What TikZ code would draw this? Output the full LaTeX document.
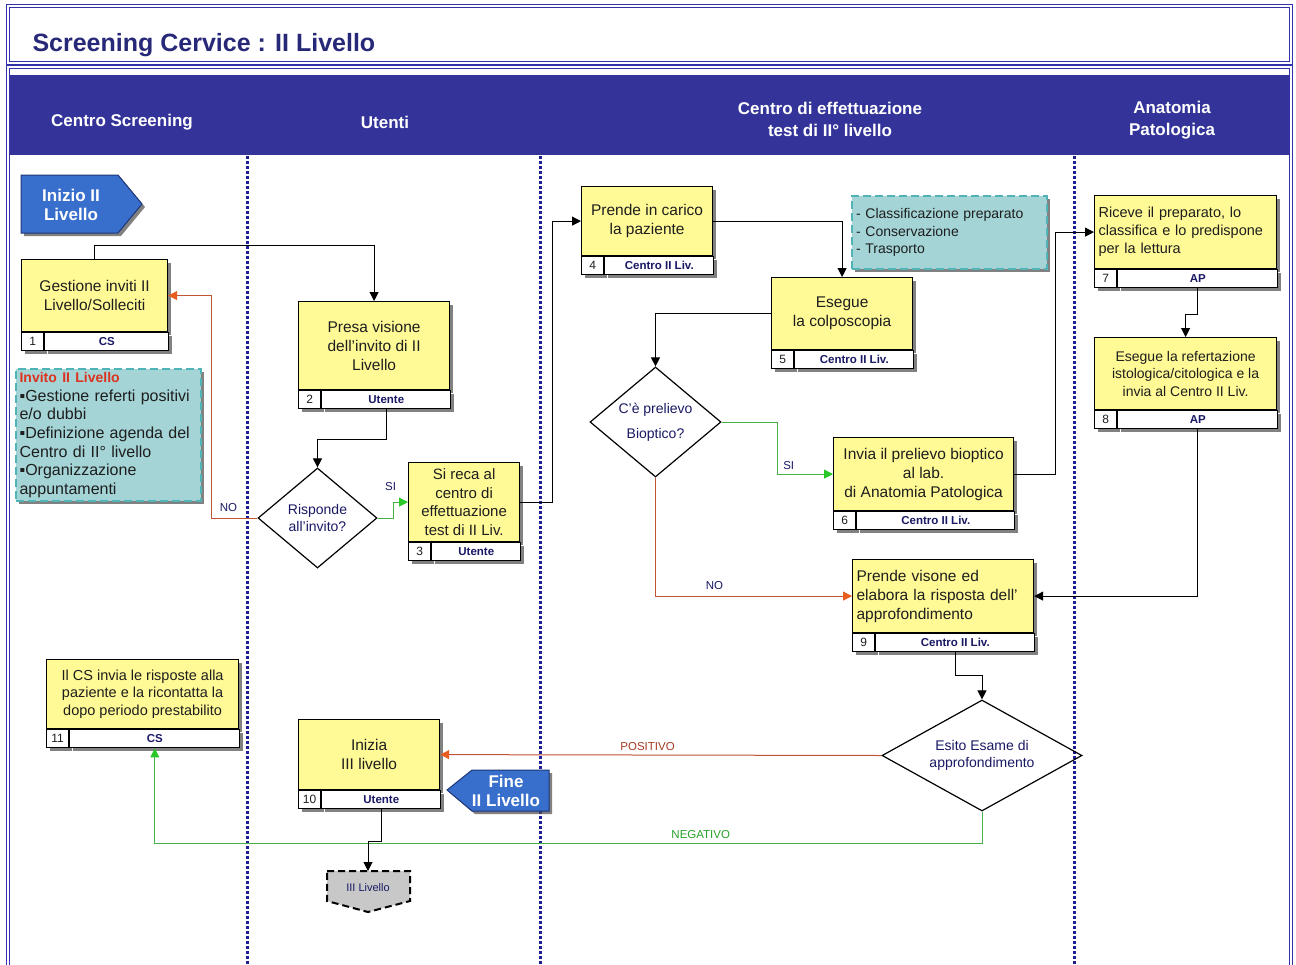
\documentclass[tikz,border=0pt]{standalone}
\usepackage{fontspec}
\setmainfont{Liberation Sans}
\usepackage{tikz}
\usetikzlibrary{arrows.meta, positioning, calc, shapes.geometric, shadows}
\definecolor{bandblue}{RGB}{51,51,153}
\definecolor{framedark}{RGB}{50,50,170}
\definecolor{titlenavy}{RGB}{40,40,120}
\definecolor{boxyellow}{RGB}{255,250,150}
\definecolor{boxtext}{RGB}{30,30,30}
\definecolor{rolenavy}{RGB}{25,25,100}
\definecolor{lanenavy}{RGB}{30,30,150}
\definecolor{noteteal}{RGB}{164,212,214}
\definecolor{noteedge}{RGB}{80,180,182}
\definecolor{termblue}{RGB}{56,110,204}
\definecolor{termedge}{RGB}{30,55,120}
\definecolor{nored}{RGB}{192,84,52}
\definecolor{notip}{RGB}{232,92,30}
\definecolor{yesgreen}{RGB}{72,176,72}
\definecolor{yestip}{RGB}{40,200,40}
\definecolor{invred}{RGB}{220,50,30}
\definecolor{posbrown}{RGB}{165,60,35}
\definecolor{neggreen}{RGB}{40,160,40}
\definecolor{lvgray}{RGB}{200,200,200}

% activity box: yellow body + footer (number | role)
\newcommand{\actbox}[8][]{%
  \node[actmain, #1, minimum width=#4, minimum height=#5] (#2) at (#3) {#6};
  \node[actnum] (#2n) at (#2.south west) {#7};
  \node[actrole, minimum width=#4-22] (#2r) at (#2n.north east) {#8};
}

\begin{document}
\begin{tikzpicture}[x=1pt, y=-1pt,
  boxshadow/.style={drop shadow={shadow xshift=3pt, shadow yshift=-3pt, fill=black!70, opacity=0.7}},
  actmain/.style={draw, line width=1.2pt, fill=boxyellow, anchor=north west, inner sep=2pt,
    align=center, text=boxtext, font=\fontsize{15.5}{19}\selectfont, boxshadow},
  actnum/.style={draw, line width=1.2pt, fill=white, anchor=north west, minimum width=22,
    minimum height=18, inner sep=0pt, text=boxtext, font=\fontsize{12}{13}\selectfont, boxshadow},
  actrole/.style={actnum, text=rolenavy, font=\bfseries\fontsize{11.5}{13}\selectfont},
  decide/.style={diamond, draw, line width=1.2pt, inner sep=0pt, align=center,
    text=rolenavy, font=\fontsize{14}{17}\selectfont},
  note/.style={draw=noteedge, fill=noteteal, line width=2.2pt, dash pattern=on 8pt off 4pt,
    anchor=north west, inner sep=3pt, align=left, text=boxtext, boxshadow},
  termshape/.style={fill=termblue, draw=termedge, line width=1pt, boxshadow},
  termtext/.style={text=white, align=center, font=\bfseries\fontsize{17}{19}\selectfont},
  lanehead/.style={text=white, align=center, font=\bfseries\fontsize{17}{22}\selectfont},
  lanesep/.style={draw=lanenavy, line width=3pt, dash pattern=on 3pt off 2pt},
  frame/.style={draw=framedark, line width=0.9pt, double=white, double distance=1.4pt},
  flow/.style={draw=black, line width=1pt, -{Triangle[length=9pt, width=9pt]}},
  nopath/.style={draw=nored, line width=1pt, -{Triangle[length=9pt, width=9pt, color=notip]}},
  yespath/.style={draw=yesgreen, line width=1pt, -{Triangle[length=9pt, width=9pt, color=yestip]}},
  lbl/.style={font=\fontsize{11.5}{13}\selectfont, text=rolenavy, inner sep=1pt}]

  \path[use as bounding box, fill=white] (0,0) rectangle (1296,964);

  % frames, title and lane headers
  \draw[frame] (8,6) rectangle (1291,63);
  \draw[frame] (8,67) rectangle (1291,1000);
  \node[anchor=base west, text=titlenavy, font=\bfseries\fontsize{25}{28}\selectfont]
    (title) at (29,51) {Screening Cervice : II Livello};
  \fill[bandblue] (10,75) rectangle (1289,155);
  \node[lanehead] (hcs) at (122,122) {Centro Screening};
  \node[lanehead] (hut) at (385,122) {Utenti};
  \node[lanehead] (hce) at (830,119) {Centro di effettuazione\\test di II° livello};
  \node[lanehead] (hap) at (1172,120) {Anatomia\\Patologica};

  \foreach \x in {247,540,1074} {
    \draw[lanesep] (\x,156) -- (\x,964);
  }

  % start / end markers
  \draw[termshape] (21,175) -- (118,175) -- (142,204) -- (118,233) -- (21,233) -- cycle;
  \node[termtext] (inizio) at (71,205) {Inizio II\\Livello};
  \draw[termshape] (549,770) -- (472,770) -- (447,790) -- (472,811) -- (549,811) -- cycle;
  \node[termtext] (fine) at (506,791) {Fine\\II Livello};
  \draw[fill=lvgray, draw=black, line width=2pt, dash pattern=on 7pt off 4pt]
    (327,871) -- (410,871) -- (410,901) -- (368,912) -- (327,901) -- cycle;
  \node[text=rolenavy, font=\fontsize{11}{13}\selectfont] (lev3) at (368,888) {III Livello};
  \coordinate (lev3in) at (368,871);

  % activities
  \actbox{b1}{21,259}{146}{72}{Gestione inviti II\\Livello/Solleciti}{1}{CS}
  \actbox{b2}{298,301}{151}{88}{Presa visione\\dell'invito di II\\Livello}{2}{Utente}
  \actbox[font=\fontsize{15}{18.5}\selectfont]{b3}{408,462}{111}{79}{Si reca al\\centro di\\effettuazione\\test di II Liv.}{3}{Utente}
  \actbox{b4}{581,186}{131}{69}{Prende in carico\\la paziente}{4}{Centro II Liv.}
  \actbox{b5}{771,277}{141}{72}{Esegue\\la colposcopia}{5}{Centro II Liv.}
  \actbox{b6}{833,437}{180}{73}{Invia il prelievo bioptico\\al lab.\\di Anatomia Patologica}{6}{Centro II Liv.}
  \actbox[font=\fontsize{14.5}{18}\selectfont, text width=174, align=left]{b7}{1094,195}{182}{73}{Riceve il preparato, lo\\classifica e lo predispone\\per la lettura}{7}{AP}
  \actbox[font=\fontsize{14}{17.5}\selectfont]{b8}{1094,337}{182}{72}{Esegue la refertazione\\istologica/citologica e la\\invia al Centro II Liv.}{8}{AP}
  \actbox[text width=173, align=left]{b9}{852,559}{181}{73}{Prende visone ed\\elabora la risposta dell'\\approfondimento}{9}{Centro II Liv.}
  \actbox{b10}{298,719}{141}{70}{Inizia\\III livello}{10}{Utente}
  \actbox[font=\fontsize{14.5}{17.5}\selectfont]{b11}{46,659}{192}{69}{Il CS invia le risposte alla\\paziente e la ricontatta la\\dopo periodo prestabilito}{11}{CS}

  % decisions
  \node[decide, minimum width=119, minimum height=100, aspect=1.2] (risp) at (317.5,518) {Risponde\\all'invito?};
  \node[decide, minimum width=131, minimum height=110, aspect=1.2, font=\fontsize{14}{25}\selectfont]
    (cp) at (655.5,422) {C'è prelievo\\Bioptico?};
  \node[decide, minimum width=200, minimum height=111, aspect=1.8] (esito) at (982,755.5) {Esito Esame di\\approfondimento};

  % notes
  \node[note, minimum width=185, minimum height=132, text width=178, font=\fontsize{16}{18.6}\selectfont]
    (invito) at (15,368) {{\color{invred}\bfseries\fontsize{14}{18.6}\selectfont Invito II Livello}\\
    ▪Gestione referti positivi\\e/o dubbi\\▪Definizione agenda del\\Centro di II° livello\\
    ▪Organizzazione\\appuntamenti};
  \node[note, minimum width=195, minimum height=73, text width=187, font=\fontsize{14}{17.5}\selectfont]
    (classif) at (851,195) {- Classificazione preparato\\- Conservazione\\- Trasporto};

  % connectors
  \draw[flow] (b1.north) -- ++(0,-14) -| (b2.north);
  \draw[flow] (b2r.south) -- ++(0,30) -| (risp.north);
  \draw[yespath] (risp.east) -- ++(16,0) |- (b3.west) node[lbl, pos=0.5, above=10pt, xshift=-3pt] {SI};
  \draw[nopath] (risp.west) -- ++(-46,0) node[lbl, midway, above=5pt, xshift=-6pt] {NO} |- (b1.east);
  \draw[flow] (b3.east) -- ++(32,0) |- (b4.west);
  \draw[flow] (b4.east) -| (b5.north);
  \draw[flow] (b5.west) -| (cp.north);
  \draw[yespath] (cp.east) -- ++(56,0) |- (b6.west) node[lbl, pos=0.6, above=3pt] {SI};
  \draw[nopath] (cp.south) |- (b9.west) node[lbl, pos=0.65, above=5pt] {NO};
  \draw[flow] (b6.east) -- ++(41,0) |- (b7.west);
  \draw[flow] (b7r.south) -- ++(0,26) -| (b8.north);
  \draw[flow] (b8r.south) |- (b9.east);
  \draw[flow] (b9r.south) -- ++(0,23) -| (esito.north);
  \draw[nopath] (esito.west) -- (b10.east) node[lbl, pos=0.53, above=3pt, text=posbrown] {POSITIVO};
  \draw[yespath] (esito.south) -- ++(0,32) -| (b11r.south) node[lbl, pos=0.17, above=3pt, text=neggreen] {NEGATIVO};
  \draw[flow] (b10r.south) -- ++(0,32) -| (lev3in);
\end{tikzpicture}
\end{document}
